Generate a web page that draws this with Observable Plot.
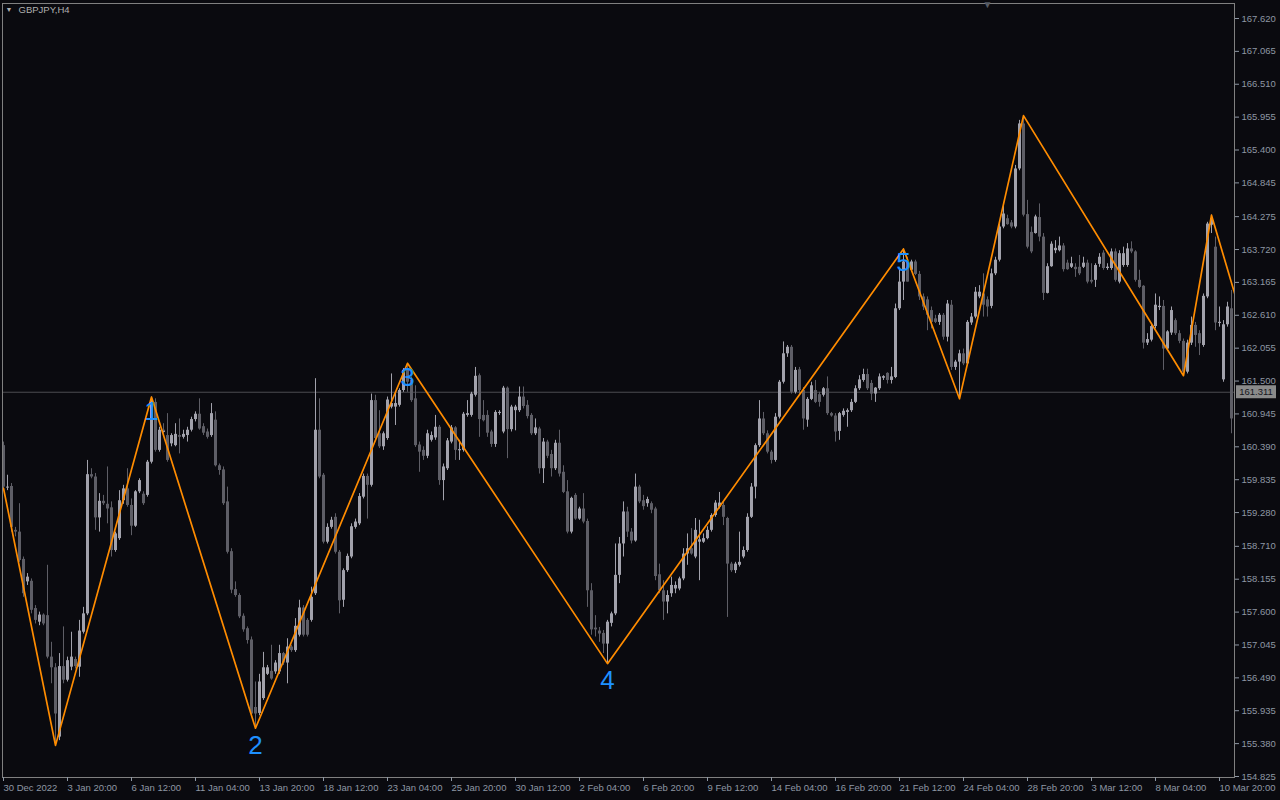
<!DOCTYPE html>
<html><head><meta charset="utf-8">
<script src="https://cdn.jsdelivr.net/npm/d3@7"></script>
<script src="https://cdn.jsdelivr.net/npm/@observablehq/plot@0.6"></script>
<style>
html,body{margin:0;padding:0;background:#0a0a0f;}
#chart{position:relative;width:1280px;height:800px;}
</style></head><body><div id="chart"></div>
<script>
const symbol = "GBPJPY,H4";
const bid = 161.311;

const opens = [
160.41,159.71,159.72,158.98,158.95,158.49,158.11,158.12,157.66,157.43,
157.55,157.54,156.84,156.66,155.49,156.68,156.45,156.67,156.80,156.67,
157.26,157.57,159.92,159.88,159.19,159.47,159.42,159.36,158.64,158.84,
159.48,159.68,159.40,159.05,159.63,159.59,159.57,160.13,161.14,160.33,
160.67,160.58,160.44,160.41,160.58,160.55,160.58,160.67,160.85,160.94,
160.73,160.64,160.58,160.84,160.07,160.00,159.46,158.62,157.98,157.88,
157.53,157.32,157.13,155.99,155.89,156.14,156.55,156.60,156.59,156.59,
156.90,156.74,157.01,156.95,157.21,157.67,157.46,157.46,157.91,160.67,
159.91,158.78,159.03,159.20,158.61,157.80,158.30,158.53,159.03,159.09,
159.54,159.89,159.74,161.17,160.61,160.39,160.53,161.06,161.06,161.09,
161.34,161.68,161.51,161.20,160.42,160.33,160.23,160.50,160.54,160.72,
159.82,160.02,160.47,160.71,160.33,160.33,160.92,160.92,161.26,161.59,
160.92,160.92,160.64,160.43,160.96,160.64,161.38,160.68,161.00,161.00,
161.23,161.09,160.92,160.61,160.69,160.02,160.47,160.26,160.02,160.45,
159.96,159.63,158.95,159.57,159.17,159.34,159.13,157.96,157.33,157.28,
157.24,157.06,157.41,157.57,158.22,158.75,159.29,158.95,158.80,159.71,
159.48,159.43,159.43,159.34,158.23,157.96,157.77,157.91,157.99,157.99,
158.16,158.58,158.67,158.53,158.78,158.78,158.84,158.98,159.23,159.37,
159.40,159.18,158.41,158.30,158.39,158.53,158.64,159.20,159.71,160.41,
160.86,160.61,160.30,160.16,160.89,161.48,161.96,162.07,161.31,161.69,
161.34,160.84,161.19,161.34,161.27,161.26,161.37,160.95,160.91,160.65,
160.92,160.97,161.00,161.14,161.37,161.51,161.61,161.46,161.28,161.37,
161.55,161.63,161.51,161.56,162.72,163.17,163.51,163.37,163.51,163.30,
162.92,162.87,162.69,162.55,162.49,162.61,162.24,162.78,161.73,161.82,
161.96,161.79,162.48,162.58,162.92,162.97,162.87,162.76,163.31,163.54,
164.10,164.24,164.17,164.10,165.08,165.84,164.31,164.01,163.99,164.26,
163.93,162.98,163.43,163.70,163.70,163.78,163.49,163.42,163.42,163.42,
163.42,163.49,163.20,163.20,163.47,163.66,163.40,163.40,163.68,163.17,
163.45,163.45,163.73,163.68,163.20,163.10,162.14,162.19,162.42,162.74,
162.76,162.04,162.31,162.52,162.30,162.17,161.65,162.14,162.44,162.30,
162.10,162.92,164.13,163.76,162.48,161.52,162.45,162.72];

const highs = [
160.47,159.91,159.77,159.03,159.43,158.53,158.25,158.16,157.71,157.60,
157.57,158.39,157.09,156.73,156.90,157.35,156.84,157.26,156.84,157.46,
157.68,160.16,160.02,159.94,159.60,159.57,160.05,159.46,158.95,159.65,
159.74,160.02,159.51,159.65,159.85,159.63,160.16,161.23,161.20,160.72,
160.78,160.95,160.61,160.78,160.86,160.67,160.72,160.89,160.98,161.20,
160.78,160.69,161.12,160.98,160.10,160.05,159.71,158.67,158.11,157.91,
157.57,157.35,157.18,156.42,156.55,156.92,156.70,157.04,156.78,157.04,
156.92,157.15,157.04,157.49,157.80,157.71,157.49,158.02,161.54,161.20,
159.94,159.09,159.20,159.26,158.64,158.33,158.58,159.09,159.17,159.60,
159.93,159.93,161.28,161.26,161.00,160.64,161.23,161.62,161.31,161.37,
161.71,161.80,161.57,161.42,160.47,160.39,160.67,160.64,160.92,160.75,
160.10,160.53,160.75,160.73,160.50,160.97,161.17,161.31,161.73,161.62,
161.17,161.00,160.67,161.00,161.00,161.41,161.40,161.09,161.09,161.40,
161.40,161.17,160.95,160.86,160.72,160.53,160.50,160.33,160.50,160.67,
160.07,159.82,159.54,159.60,159.37,159.60,159.17,158.08,157.54,157.34,
157.29,157.46,157.60,158.75,158.86,159.46,159.37,159.01,159.93,159.74,
159.57,159.54,159.46,159.37,158.41,158.13,157.96,158.19,158.11,158.19,
158.67,158.92,159.01,159.18,159.15,158.92,159.04,159.26,159.48,159.62,
159.46,159.20,158.44,158.44,158.95,158.70,159.26,159.77,160.44,161.17,
160.97,160.66,160.33,160.95,161.51,162.16,162.10,162.10,161.73,161.73,
161.39,161.22,161.48,161.51,161.31,161.39,161.57,160.97,160.95,160.97,
161.03,161.03,161.19,161.42,161.59,161.70,161.70,161.51,161.39,161.62,
161.59,161.64,161.73,162.80,163.37,163.73,163.59,163.54,163.54,163.35,
162.97,162.92,162.75,162.61,162.64,162.64,162.86,162.86,161.85,162.02,
162.04,162.52,162.64,163.08,163.11,163.31,162.92,163.39,163.59,164.15,
164.49,164.30,164.21,165.14,165.90,165.98,164.55,164.10,164.30,164.49,
163.99,163.48,163.85,163.87,163.93,163.82,163.54,163.59,163.48,163.62,
163.59,163.54,163.48,163.48,163.65,163.70,163.48,163.73,163.73,163.70,
163.76,163.82,163.85,163.70,163.37,163.11,162.30,162.47,162.97,162.92,
162.86,162.35,162.75,162.55,162.35,162.21,162.19,162.58,162.49,162.35,
162.97,164.18,164.30,163.93,162.75,162.52,162.83,163.03];

const lows = [
159.68,159.65,158.95,158.87,158.44,157.85,158.05,157.57,157.40,157.37,
157.37,156.81,156.39,155.35,155.43,156.39,156.42,156.61,156.64,156.50,
157.23,157.54,159.85,158.98,158.95,159.40,159.09,158.53,158.61,158.81,
159.42,159.37,158.89,159.03,159.60,159.40,159.54,160.10,160.30,160.30,
160.61,160.13,160.39,160.39,160.27,160.52,160.47,160.64,160.81,160.67,
160.58,160.52,160.55,160.05,159.91,159.40,158.58,157.91,157.85,157.49,
157.26,157.06,155.83,155.64,155.85,156.11,156.53,156.45,156.55,156.55,
156.70,156.39,156.92,156.92,157.18,157.18,157.18,157.43,157.88,159.85,
158.75,158.75,159.00,158.58,157.57,157.68,158.27,158.50,159.00,159.06,
159.51,159.17,159.71,160.50,160.36,160.33,160.50,161.03,160.75,161.06,
161.31,161.31,161.14,160.38,159.96,160.16,160.19,160.47,160.50,159.74,
159.48,159.99,160.44,160.16,160.16,160.30,160.89,160.89,161.23,160.55,
160.81,160.55,160.38,160.38,160.92,160.61,160.19,160.64,160.66,160.97,
161.03,160.86,160.58,160.58,159.93,159.77,160.19,159.88,159.99,159.88,
159.60,158.92,158.92,159.15,159.15,159.09,157.68,157.21,157.18,157.09,
156.90,156.73,157.35,157.54,158.08,158.53,158.86,158.75,158.78,159.43,
159.32,159.37,159.26,158.13,157.91,157.46,157.57,157.85,157.91,157.96,
158.13,158.39,158.56,158.50,158.13,158.76,158.82,158.95,159.20,159.34,
159.06,157.51,158.27,158.25,158.36,158.50,158.61,159.18,159.51,160.38,
160.58,160.27,160.10,160.13,160.86,161.45,161.90,161.28,161.28,161.28,
160.67,160.72,161.17,161.12,161.06,161.23,160.92,160.89,160.47,160.50,
160.89,160.72,160.97,161.12,161.34,161.48,161.34,161.17,161.14,161.34,
161.51,161.45,161.45,161.54,162.69,162.86,163.17,163.34,163.28,162.86,
162.69,162.35,162.38,162.47,162.44,162.19,162.16,161.68,161.68,161.20,
161.76,161.76,162.44,162.55,162.89,162.58,162.58,162.72,163.28,163.51,
164.07,164.13,164.07,164.07,165.05,164.27,163.73,163.65,163.98,163.85,
162.86,162.97,163.42,163.65,163.68,163.34,163.37,163.40,163.25,163.28,
163.40,163.14,163.14,163.08,163.42,163.37,163.37,163.37,163.17,163.14,
163.42,163.42,163.65,163.17,163.06,162.04,162.10,162.16,162.38,162.69,
161.68,162.02,162.27,162.27,162.13,161.59,161.62,162.10,162.07,161.93,
162.07,162.89,163.99,162.35,162.41,161.48,162.41,160.61];

const closes = [
159.71,159.71,159.03,158.95,158.47,157.91,158.19,157.63,157.46,157.55,
157.40,156.84,156.66,155.88,156.68,156.45,156.78,156.84,156.68,157.28,
157.57,159.92,159.88,159.19,159.47,159.43,159.34,158.64,158.92,159.48,
159.68,159.40,159.05,159.63,159.82,159.43,160.13,161.17,160.33,160.67,
160.65,160.16,160.58,160.60,160.55,160.60,160.67,160.85,160.94,160.69,
160.62,160.55,160.95,160.07,159.99,159.43,158.61,157.97,157.88,157.52,
157.30,157.12,155.88,155.88,156.42,156.66,156.66,156.47,156.74,156.90,
156.74,157.01,156.95,157.36,157.67,157.21,157.21,157.85,160.67,159.88,
158.78,159.03,159.15,158.61,157.79,158.30,158.54,159.04,159.12,159.55,
159.89,159.74,161.17,160.53,160.39,160.61,161.18,161.12,161.12,161.34,
161.68,161.48,161.17,160.41,160.30,160.23,160.61,160.58,160.72,159.82,
160.05,160.49,160.71,160.33,160.34,160.94,160.95,161.28,161.58,160.85,
160.83,160.62,160.43,160.97,160.97,161.38,160.68,161.06,161.06,161.23,
161.07,160.90,160.61,160.71,160.02,160.47,160.23,160.02,160.45,159.93,
159.62,158.95,159.52,159.17,159.34,159.12,157.96,157.30,157.30,157.23,
157.06,157.43,157.57,158.22,158.75,159.29,158.95,158.80,159.71,159.46,
159.38,159.50,159.32,158.20,157.96,157.77,157.88,158.05,158.05,158.16,
158.58,158.67,158.58,158.98,158.82,158.84,158.98,159.23,159.44,159.44,
159.20,158.41,158.30,158.41,158.44,158.64,159.20,159.71,160.41,160.86,
160.61,160.30,160.16,160.89,161.48,161.96,162.07,161.31,161.68,161.34,
160.86,161.19,161.42,161.14,161.14,161.37,160.95,160.91,160.64,160.95,
160.99,161.00,161.14,161.37,161.52,161.61,161.37,161.28,161.38,161.57,
161.57,161.51,161.57,162.72,163.17,163.51,163.17,163.51,163.30,162.92,
162.75,162.61,162.49,162.49,162.61,162.24,162.80,161.73,161.82,161.96,
161.79,162.49,162.58,163.00,163.00,162.78,162.75,163.31,163.54,164.10,
164.32,164.14,164.10,165.08,165.84,164.30,163.76,163.68,164.27,163.93,
162.98,163.43,163.81,163.74,163.78,163.38,163.38,163.48,163.38,163.31,
163.49,163.17,163.17,163.45,163.59,163.40,163.42,163.68,163.20,163.65,
163.65,163.73,163.68,163.20,163.08,162.14,162.20,162.42,162.78,162.76,
162.04,162.33,162.69,162.30,162.17,161.65,162.14,162.44,162.27,162.13,
162.93,164.15,164.24,162.48,162.49,162.45,162.75,160.86];

// ZigZag pivots (bar index, price)
const zigBars   = [0, 13, 37, 63, 101, 151, 225, 239, 255, 295, 302, 308];
const zigPrices = [159.69, 155.35, 161.23, 155.64, 161.80, 156.73, 163.73, 161.20, 165.98, 161.59, 164.30, 162.93];

// Wave labels
const waveNames  = ["1", "2", "3", "4", "5"];
const waveBars   = [37, 63, 101, 151, 225];
const wavePrices = [161.23, 155.64, 161.80, 156.73, 163.73];
const waveIsPeak = [true, false, true, false, true];

// Axis ticks
const yTicks = [167.620,167.065,166.510,165.955,165.400,164.845,164.275,163.720,163.165,162.610,162.055,161.500,160.945,160.390,159.835,159.280,158.710,158.155,157.600,157.045,156.490,155.935,155.380,154.825];
const xTickBars = [0,16,32,48,64,80,96,112,128,144,160,176,192,208,224,240,256,272,288,304];
const xLabels = ["30 Dec 2022","3 Jan 20:00","6 Jan 12:00","11 Jan 04:00","13 Jan 20:00","18 Jan 12:00","23 Jan 04:00","25 Jan 20:00","30 Jan 12:00","2 Feb 04:00","6 Feb 20:00","9 Feb 12:00","14 Feb 04:00","16 Feb 20:00","21 Feb 12:00","24 Feb 04:00","28 Feb 20:00","3 Mar 12:00","8 Mar 04:00","10 Mar 20:00"];
const shiftBar = 246;

const bars = opens.map((o, i) => ({i, o, h: highs[i], l: lows[i], c: closes[i]}));
const upBars = bars.filter(d => d.c >= d.o);
const dnBars = bars.filter(d => d.c < d.o);
const dojis = bars.filter(d => Math.abs(d.c - d.o) < 0.02);
const zig = zigBars.map((b, k) => ({b, p: zigPrices[k]}));
const waves = waveNames.map((t, k) => ({t, b: waveBars[k], p: wavePrices[k], peak: waveIsPeak[k]}));

const bullCol = "#a2a2ac";
const bearCol = "#5e5e66";

const chart = Plot.plot({
  width: 1280,
  height: 800,
  marginLeft: 2,
  marginRight: 46,
  marginTop: 3,
  marginBottom: 23,
  style: {background: "#0a0a0f", color: "#8e97a4", fontFamily: "'Liberation Sans', Arial, sans-serif", fontSize: "9.5px"},
  x: {type: "linear", domain: [-0.25, bars.length - 0.25]},
  y: {type: "linear", domain: [154.808, 167.873]},
  marks: [
    Plot.ruleY([bid], {stroke: "#4c4c52", strokeWidth: 1}),
    Plot.ruleX(upBars, {x: "i", y1: "l", y2: "h", stroke: bullCol, strokeWidth: 1}),
    Plot.ruleX(dnBars, {x: "i", y1: "l", y2: "h", stroke: bearCol, strokeWidth: 1}),
    Plot.ruleX(upBars, {x: "i", y1: "o", y2: "c", stroke: bullCol, strokeWidth: 3}),
    Plot.ruleX(dnBars, {x: "i", y1: "o", y2: "c", stroke: bearCol, strokeWidth: 3}),
    Plot.ruleY(dojis, {y: "c", x1: d => d.i - 0.25, x2: d => d.i + 0.5, stroke: bullCol, strokeWidth: 1}),
    Plot.line(zig, {x: "b", y: "p", stroke: "#ff8c00", strokeWidth: 1.7, clip: true}),
    Plot.text(waves.filter(d => d.peak), {x: "b", y: "p", text: "t", fill: "#1e90ff", fontSize: 26, lineAnchor: "top", dy: 4, fontFamily: "'Liberation Sans', Arial, sans-serif"}),
    Plot.text(waves.filter(d => !d.peak), {x: "b", y: "p", text: "t", fill: "#1e90ff", fontSize: 26, lineAnchor: "top", dy: 7, fontFamily: "'Liberation Sans', Arial, sans-serif"}),
    Plot.frame({stroke: "#808080"}),
    Plot.axisY(yTicks, {anchor: "right", tickSize: 4, tickPadding: 3, tickFormat: d => d.toFixed(3), label: null}),
    Plot.axisX(xTickBars, {anchor: "bottom", tickSize: 4, tickPadding: 3, textAnchor: "start", tickFormat: d => xLabels[xTickBars.indexOf(d)], label: null}),
    Plot.text([symbol], {frameAnchor: "top-left", dx: 16, dy: 3, textAnchor: "start", lineAnchor: "top", fill: "#b0b0b0", fontSize: 9.5}),
    Plot.text(["▼"], {frameAnchor: "top-left", dx: 3, dy: 4, textAnchor: "start", lineAnchor: "top", fill: "#b0b0b0", fontSize: 7}),
    Plot.text([shiftBar], {x: d => d, frameAnchor: "top", text: () => "▼", lineAnchor: "top", dy: -3, fill: "#555a64", fontSize: 10})
  ]
});

// bid price box on the right axis, positioned with the chart's own y scale
const ys = chart.scale("y").apply(bid);
const svg = d3.select(chart);
svg.append("rect").attr("x", 1236).attr("y", ys - 6.5).attr("width", 40).attr("height", 13).attr("fill", "#8a8a8a");
svg.append("text").attr("x", 1256).attr("y", ys).attr("text-anchor", "middle").attr("dominant-baseline", "central")
  .attr("fill", "#15151c").attr("font-size", "9.5px").attr("font-family", "'Liberation Sans', Arial, sans-serif").text(bid.toFixed(3));

document.getElementById("chart").appendChild(chart);
</script>
</body></html>
